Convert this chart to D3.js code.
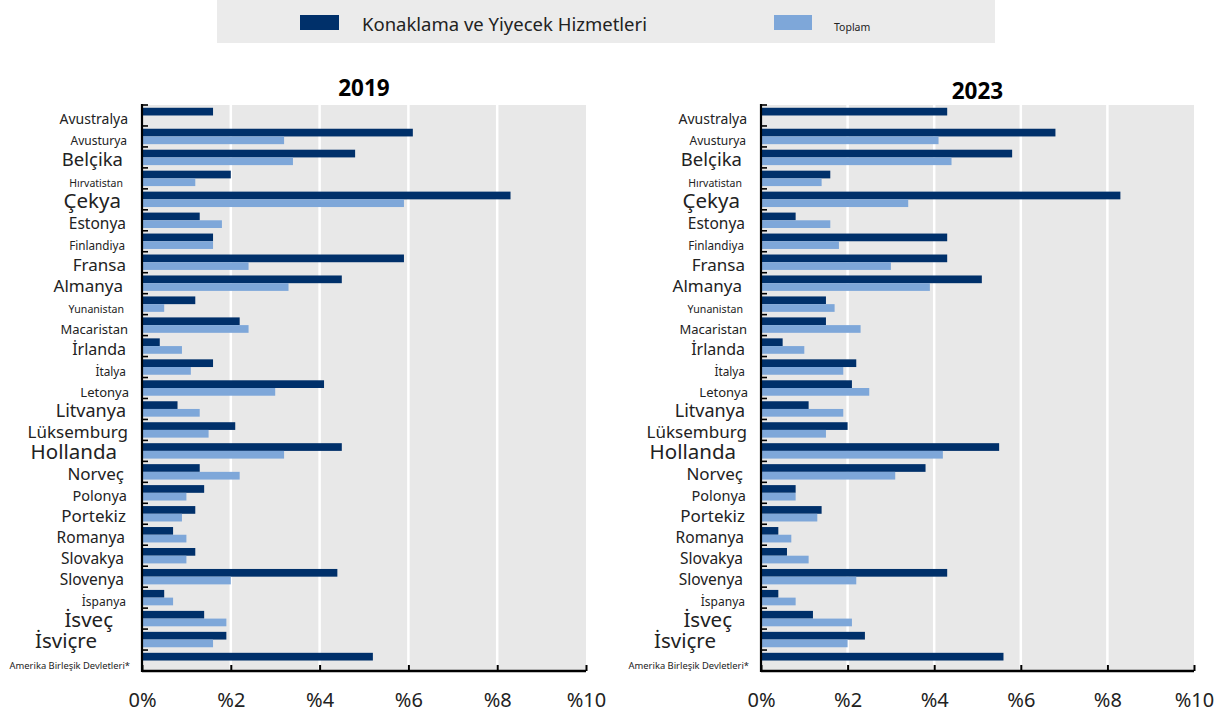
<!DOCTYPE html>
<html>
<head>
<meta charset="utf-8">
<script src="https://cdn.jsdelivr.net/npm/d3@7"></script>
<style>
  body { margin: 0; background: #fff; }
  svg { display: block; font-family: "Noto Sans", "Open Sans", sans-serif; }
</style>
</head>
<body>
<div id="chart"></div>
<script>
// categories, top to bottom
const countries = ['Avustralya', 'Avusturya', 'Belçika', 'Hırvatistan', 'Çekya', 'Estonya',
  'Finlandiya', 'Fransa', 'Almanya', 'Yunanistan', 'Macaristan', 'İrlanda', 'İtalya',
  'Letonya', 'Litvanya', 'Lüksemburg', 'Hollanda', 'Norveç', 'Polonya', 'Portekiz',
  'Romanya', 'Slovakya', 'Slovenya', 'İspanya', 'İsveç', 'İsviçre', 'Amerika Birleşik Devletleri*'];

// the source uses a different font size (and a ragged right edge) for the labels
const labelSizes = [14, 12, 18.5, 10.5, 20.5, 15.5, 11.7, 17, 17, 10.6, 13, 16, 11.8,
  13, 18, 17, 20.5, 17, 14.5, 17, 15.5, 15.5, 15.5, 12, 20.5, 20.5, 9.4];
const labelGap = [14, 15, 19, 19, 21, 16, 17, 16, 19, 18, 14, 16, 16,
  13, 16, 14, 25, 18, 15, 16, 17, 18, 18, 16, 29, 45, 12];

const seriesNames = ['Konaklama ve Yiyecek Hizmetleri', 'Toplam'];

// values in %, null = no bar
const hosp2019 = [1.6, 6.1, 4.8, 2.0, 8.3, 1.3, 1.6, 5.9, 4.5, 1.2, 2.2, 0.4, 1.6,
  4.1, 0.8, 2.1, 4.5, 1.3, 1.4, 1.2, 0.7, 1.2, 4.4, 0.5, 1.4, 1.9, 5.2];
const total2019 = [null, 3.2, 3.4, 1.2, 5.9, 1.8, 1.6, 2.4, 3.3, 0.5, 2.4, 0.9, 1.1,
  3.0, 1.3, 1.5, 3.2, 2.2, 1.0, 0.9, 1.0, 1.0, 2.0, 0.7, 1.9, 1.6, null];

const hosp2023 = [4.3, 6.8, 5.8, 1.6, 8.3, 0.8, 4.3, 4.3, 5.1, 1.5, 1.5, 0.5, 2.2,
  2.1, 1.1, 2.0, 5.5, 3.8, 0.8, 1.4, 0.4, 0.6, 4.3, 0.4, 1.2, 2.4, 5.6];
const total2023 = [null, 4.1, 4.4, 1.4, 3.4, 1.6, 1.8, 3.0, 3.9, 1.7, 2.3, 1.0, 1.9,
  2.5, 1.9, 1.5, 4.2, 3.1, 0.8, 1.3, 0.7, 1.1, 2.2, 0.8, 2.1, 2.0, null];

const xTicks = [0, 2, 4, 6, 8, 10];
const tickLabels = ['0%', '%2', '%4', '%6', '%8', '%10'];

const colors = { hosp: '#00306a', total: '#7ea7d9' };

const width = 1231, height = 716;
const plotTop = 105, plotBottom = 671;

const svg = d3.select('#chart').append('svg')
  .attr('width', width)
  .attr('height', height);

// legend
const legend = svg.append('g');
legend.append('rect')
  .attr('x', 217).attr('y', 0)
  .attr('width', 778).attr('height', 43)
  .attr('fill', '#ebebeb');
legend.append('rect')
  .attr('x', 300).attr('y', 15).attr('width', 39).attr('height', 15)
  .attr('fill', colors.hosp);
legend.append('text')
  .attr('x', 362).attr('y', 31)
  .attr('font-size', 18.5).attr('fill', '#222')
  .text(seriesNames[0]);
legend.append('rect')
  .attr('x', 774).attr('y', 15).attr('width', 38).attr('height', 15)
  .attr('fill', colors.total);
legend.append('text')
  .attr('x', 834).attr('y', 31)
  .attr('font-size', 10.5).attr('fill', '#222')
  .text(seriesNames[1]);

const panels = [
  { title: '2019', x0: 142, x1: 586, titleY: 96, hosp: hosp2019, total: total2019 },
  { title: '2023', x0: 761, x1: 1194, titleY: 99, hosp: hosp2023, total: total2023 }
];

const y = d3.scaleBand()
  .domain(countries)
  .range([plotTop, plotBottom]);

const ySub = d3.scaleBand()
  .domain(['hosp', 'total'])
  .range([0, y.bandwidth()])
  .paddingOuter(0.36);

panels.forEach(p => {
  const x = d3.scaleLinear().domain([0, 10]).range([p.x0, p.x1]);
  const g = svg.append('g');

  g.append('rect')
    .attr('x', p.x0).attr('y', plotTop)
    .attr('width', p.x1 - p.x0).attr('height', plotBottom - plotTop)
    .attr('fill', '#e8e8e8');

  g.selectAll('.grid')
    .data(xTicks.filter(d => d > 0 && d < 10))
    .enter().append('line')
    .attr('x1', d => x(d)).attr('x2', d => x(d))
    .attr('y1', plotTop).attr('y2', plotBottom)
    .attr('stroke', '#fff')
    .attr('stroke-width', 2.5);

  const rows = countries.map((c, i) => ({ c, hosp: p.hosp[i], total: p.total[i] }));

  ['hosp', 'total'].forEach(key => {
    g.selectAll('.bar-' + key)
      .data(rows.filter(r => r[key] != null))
      .enter().append('rect')
      .attr('x', x(0))
      .attr('y', r => y(r.c) + ySub(key))
      .attr('width', r => x(r[key]) - x(0))
      .attr('height', ySub.bandwidth())
      .attr('fill', colors[key]);
  });

  // category labels, baseline sits a fixed distance under the band centre
  g.selectAll('.label')
    .data(countries)
    .enter().append('text')
    .attr('x', (d, i) => p.x0 - labelGap[i])
    .attr('y', d => y(d) + y.bandwidth() / 2 + 8.5)
    .attr('text-anchor', 'end')
    .attr('font-size', (d, i) => labelSizes[i])
    .attr('fill', '#222')
    .text(d => d);

  // left axis with ticks at band edges
  g.selectAll('.ytick')
    .data(countries)
    .enter().append('line')
    .attr('x1', p.x0).attr('x2', p.x0 + 6)
    .attr('y1', d => y(d)).attr('y2', d => y(d))
    .attr('stroke', '#000')
    .attr('stroke-width', 1.6);
  g.append('line')
    .attr('x1', p.x0).attr('x2', p.x0)
    .attr('y1', plotTop - 1).attr('y2', plotBottom + 1)
    .attr('stroke', '#000')
    .attr('stroke-width', 2.2);

  // bottom axis
  const xAxis = g.append('g')
    .attr('transform', `translate(0,${plotBottom})`)
    .call(d3.axisBottom(x)
      .tickValues(xTicks)
      .tickSize(-6)
      .tickPadding(22)
      .tickFormat((d, i) => tickLabels[i]));
  xAxis.select('.domain')
    .attr('d', `M${p.x0},0H${p.x1}`)
    .attr('stroke', '#000')
    .attr('stroke-width', 2.5);
  xAxis.selectAll('.tick line')
    .attr('stroke', '#000')
    .attr('stroke-width', 2);
  xAxis.selectAll('.tick text')
    .attr('font-size', 20)
    .attr('font-family', '"Noto Sans", "Open Sans", sans-serif')
    .attr('fill', '#222');

  g.append('text')
    .attr('x', (p.x0 + p.x1) / 2)
    .attr('y', p.titleY)
    .attr('text-anchor', 'middle')
    .attr('font-size', 22.5)
    .attr('font-weight', 'bold')
    .attr('fill', '#000')
    .text(p.title);
});
</script>
</body>
</html>
